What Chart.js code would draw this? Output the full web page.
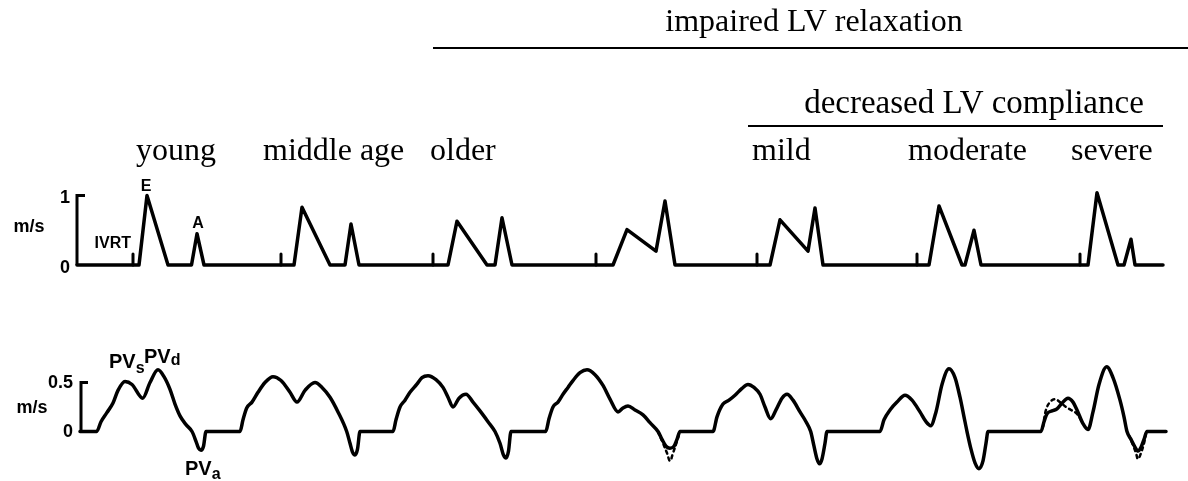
<!DOCTYPE html>
<html><head><meta charset="utf-8">
<script src="https://cdn.jsdelivr.net/npm/chart.js@4"></script>
<style>html,body{margin:0;padding:0;background:#fff}#wrap{width:1188px;height:481px;position:relative}canvas{display:block}</style>
</head><body><div id="wrap"><canvas id="c" width="1188" height="481"></canvas></div>
<script>
// ---- data (time axis in arbitrary units; velocities in m/s) ----
const categories = ['young', 'middle age', 'older', '', 'mild', 'moderate', 'severe'];
const ivrtTimes = [133, 281, 433, 596, 757, 917, 1080];
const ivrtHeight = 0.16;

// Mitral inflow (E and A waves), m/s
const mitralTime = [77, 139, 147, 168, 191.5, 197, 204,
  294, 302, 330, 345, 351, 359,
  448, 457, 487, 495, 502, 512,
  613, 627, 656, 665, 675,
  770, 780, 808, 815, 823,
  929, 939, 962, 965, 974, 981,
  1088, 1097, 1118, 1124, 1131, 1135, 1163];
const mitralVel = [0, 0, 1.0, 0, 0, 0.45, 0,
  0, 0.83, 0, 0, 0.59, 0,
  0, 0.63, 0, 0, 0.68, 0,
  0, 0.51, 0.2, 0.92, 0,
  0, 0.65, 0.2, 0.82, 0,
  0, 0.85, 0, 0, 0.5, 0,
  0, 1.04, 0, 0, 0.37, 0, 0];

// Pulmonary venous flow (PVs, PVd, PVa), m/s
const pvTime = [80,
  96.7, 101, 106.7, 113, 118, 125, 132, 142.7, 150, 158, 164, 170, 175, 180, 186, 192, 196, 198.5, 201, 203.5, 206,
  240, 243, 246.7, 252, 258, 265, 273, 281, 290, 297, 305, 315, 322, 330, 338, 346.7, 350, 352.5, 355, 357.5, 360,
  393, 396, 400, 405, 410, 416.7, 422, 428, 436, 443, 448, 453, 459, 466, 473, 480, 488, 495, 500, 503.5, 506, 508.5, 511,
  545.7, 549, 553, 558, 563, 568, 573, 580, 587, 595, 603, 610, 618, 623, 628, 635, 643, 650, 658, 662, 666, 670, 674, 677, 680,
  713, 717, 723, 729, 735, 742, 748, 754, 760, 765, 770.7, 776, 782, 787, 793, 800, 806, 810.7, 814, 817, 819.5, 822, 825, 827,
  880, 884, 890, 897, 905, 912, 920, 926, 930.7, 936, 942, 949, 955, 960, 964, 967, 971, 975, 979, 983, 986, 988,
  1041, 1044, 1047, 1052, 1057, 1062, 1068, 1073, 1077, 1083, 1088, 1093, 1099, 1106.7, 1113, 1120, 1124, 1127, 1131, 1135, 1138, 1141, 1144, 1147,
  1166];
const pvVel = [0,
  0, 0.1, 0.19, 0.29, 0.42, 0.51, 0.48, 0.34, 0.5, 0.63, 0.56, 0.43, 0.28, 0.16, 0.07, 0, -0.1, -0.17, -0.19, -0.15, 0,
  0, 0.12, 0.24, 0.3, 0.4, 0.5, 0.56, 0.52, 0.4, 0.3, 0.42, 0.5, 0.45, 0.35, 0.2, 0, -0.12, -0.21, -0.24, -0.18, 0,
  0, 0.12, 0.25, 0.32, 0.4, 0.48, 0.55, 0.57, 0.53, 0.45, 0.35, 0.25, 0.34, 0.38, 0.3, 0.21, 0.1, 0, -0.12, -0.24, -0.27, -0.2, 0,
  0, 0.13, 0.25, 0.3, 0.38, 0.45, 0.52, 0.6, 0.63, 0.58, 0.47, 0.33, 0.2, 0.24, 0.26, 0.22, 0.17, 0.09, 0, -0.08, -0.15, -0.17, -0.15, -0.08, 0,
  0, 0.15, 0.28, 0.32, 0.37, 0.44, 0.48, 0.45, 0.38, 0.25, 0.13, 0.22, 0.34, 0.38, 0.32, 0.2, 0.1, 0, -0.15, -0.28, -0.33, -0.28, -0.12, 0,
  0, 0.12, 0.22, 0.3, 0.37, 0.32, 0.2, 0.1, 0.06, 0.2, 0.48, 0.64, 0.55, 0.35, 0.15, 0, -0.18, -0.32, -0.38, -0.3, -0.12, 0,
  0, 0.1, 0.18, 0.21, 0.23, 0.29, 0.34, 0.3, 0.22, 0.08, 0.02, 0.2, 0.48, 0.66, 0.55, 0.32, 0.15, 0, -0.08, -0.16, -0.2, -0.16, -0.08, 0,
  0];

// Dashed variants (alternative traces)
const pvDashTime = [658, 663, 667, 670, 673, 677, 680, null,
  1043, 1046, 1050, 1055, 1060, 1066, 1071, 1077, 1082, null,
  1129, 1133, 1136, 1138, 1141, 1144, 1146];
const pvDashVel = [0, -0.12, -0.22, -0.3, -0.22, -0.1, 0, null,
  0.05, 0.22, 0.3, 0.33, 0.3, 0.25, 0.22, 0.18, 0.1, null,
  -0.04, -0.14, -0.22, -0.28, -0.22, -0.12, -0.02];

// axis tick labels
const topTicks = [0, 1];
const topTickLabels = ['0', '1'];
const bottomTicks = [0, 0.5];
const bottomTickLabels = ['0', '0.5'];

// ---- build datasets ----
const pts = (xs, ys) => xs.map((x, i) => ({ x: x, y: ys[i] }));
const ivrtPts = [];
ivrtTimes.forEach(t => { ivrtPts.push({ x: t, y: 0 }, { x: t, y: ivrtHeight }, { x: t, y: null }); });
const dashPts = pvDashTime.map((t, i) => t === null ? { x: pvDashTime[i - 1] + 1, y: null } : { x: t, y: pvDashVel[i] });

const SANS = '"Liberation Sans", Arial, Helvetica, sans-serif';
const SERIF = '"Liberation Serif", "Times New Roman", Times, serif';

const common = { showLine: true, pointRadius: 0, borderColor: '#000', borderJoinStyle: 'round', borderCapStyle: 'round', fill: false, spanGaps: false };

const annot = {
  id: 'annot',
  afterDatasetsDraw(chart) {
    const { ctx, scales } = chart;
    const x = scales.x, yT = scales.yTop, yB = scales.yBot;
    ctx.save();
    ctx.fillStyle = '#000';
    ctx.strokeStyle = '#000';
    // axis brackets
    ctx.lineWidth = 3;
    ctx.lineCap = 'butt';
    ctx.beginPath();
    ctx.moveTo(x.getPixelForValue(85), yT.getPixelForValue(1));
    ctx.lineTo(x.getPixelForValue(77), yT.getPixelForValue(1));
    ctx.lineTo(x.getPixelForValue(77), yT.getPixelForValue(0));
    ctx.stroke();
    ctx.beginPath();
    ctx.moveTo(x.getPixelForValue(88), yB.getPixelForValue(0.5));
    ctx.lineTo(x.getPixelForValue(81), yB.getPixelForValue(0.5));
    ctx.lineTo(x.getPixelForValue(81), yB.getPixelForValue(0));
    ctx.stroke();

    // tick labels
    ctx.font = 'bold 18px ' + SANS;
    ctx.textAlign = 'right';
    ctx.textBaseline = 'middle';
    topTicks.forEach((v, i) => ctx.fillText(topTickLabels[i], 70, yT.getPixelForValue(v) + 3));
    bottomTicks.forEach((v, i) => ctx.fillText(bottomTickLabels[i], 73, yB.getPixelForValue(v) + 1));
    ctx.textAlign = 'center';
    ctx.fillText('m/s', 29, yT.getPixelForValue(0.55));
    ctx.fillText('m/s', 32, yB.getPixelForValue(0.24));

    // wave labels
    ctx.font = 'bold 16px ' + SANS;
    ctx.fillText('E', x.getPixelForValue(146), yT.getPixelForValue(1.13));
    ctx.fillText('A', x.getPixelForValue(198), yT.getPixelForValue(0.6));
    ctx.textAlign = 'right';
    ctx.fillText('IVRT', x.getPixelForValue(131), yT.getPixelForValue(0.31));

    const pv = (sub, px, py, dx, dy) => {
      ctx.textAlign = 'left';
      ctx.textBaseline = 'alphabetic';
      ctx.font = 'bold 20px ' + SANS;
      ctx.fillText('PV', px, py);
      const w = ctx.measureText('PV').width;
      ctx.font = 'bold 16px ' + SANS;
      ctx.fillText(sub, px + w + dx, py + dy);
    };
    pv('s', x.getPixelForValue(109), yB.getPixelForValue(0.65), 0, 5);
    pv('d', x.getPixelForValue(144), yB.getPixelForValue(0.70), 0, 2);
    pv('a', x.getPixelForValue(185), yB.getPixelForValue(-0.44), 0, 4);

    // group headers
    ctx.font = '32px ' + SERIF;
    ctx.textBaseline = 'alphabetic';
    ctx.textAlign = 'left';
    const labelOffsets = [3, -18, -3, 0, -5, -9, -9];
    categories.forEach((c, i) => { if (c) ctx.fillText(c, x.getPixelForValue(ivrtTimes[i] + labelOffsets[i]), 160); });

    ctx.textAlign = 'center';
    ctx.fillText('impaired LV relaxation', x.getPixelForValue(814), 31);
    ctx.font = '33px ' + SERIF;
    ctx.fillText('decreased LV compliance', x.getPixelForValue(974), 113);
    ctx.lineWidth = 2;
    ctx.beginPath();
    ctx.moveTo(x.getPixelForValue(433), 48); ctx.lineTo(x.getPixelForValue(1188), 48);
    ctx.moveTo(x.getPixelForValue(748), 126); ctx.lineTo(x.getPixelForValue(1163), 126);
    ctx.stroke();
    ctx.restore();
  }
};

new Chart(document.getElementById('c'), {
  type: 'scatter',
  data: {
    datasets: [
      Object.assign({ label: 'Mitral inflow', data: pts(mitralTime, mitralVel), yAxisID: 'yTop', borderWidth: 3.5, tension: 0 }, common),
      Object.assign({ label: 'IVRT', data: ivrtPts, yAxisID: 'yTop', borderWidth: 3, tension: 0 }, common),
      Object.assign({ label: 'Pulmonary venous flow', data: pts(pvTime, pvVel), yAxisID: 'yBot', borderWidth: 3.5, cubicInterpolationMode: 'monotone' }, common),
      Object.assign({ label: 'alternative', data: dashPts, yAxisID: 'yBot', borderWidth: 2.5, borderDash: [3, 4], tension: 0.4 }, common)
    ]
  },
  options: {
    responsive: false,
    devicePixelRatio: 1,
    animation: false,
    layout: { padding: 0 },
    plugins: { legend: { display: false }, tooltip: { enabled: false } },
    scales: {
      x: { type: 'linear', min: 0, max: 1188, display: false },
      yTop: { type: 'linear', position: 'left', min: -3.108, max: 3.813, display: false },
      yBot: { type: 'linear', position: 'left', min: -0.505, max: 4.403, display: false }
    }
  },
  plugins: [annot]
});
</script>
</body></html>
